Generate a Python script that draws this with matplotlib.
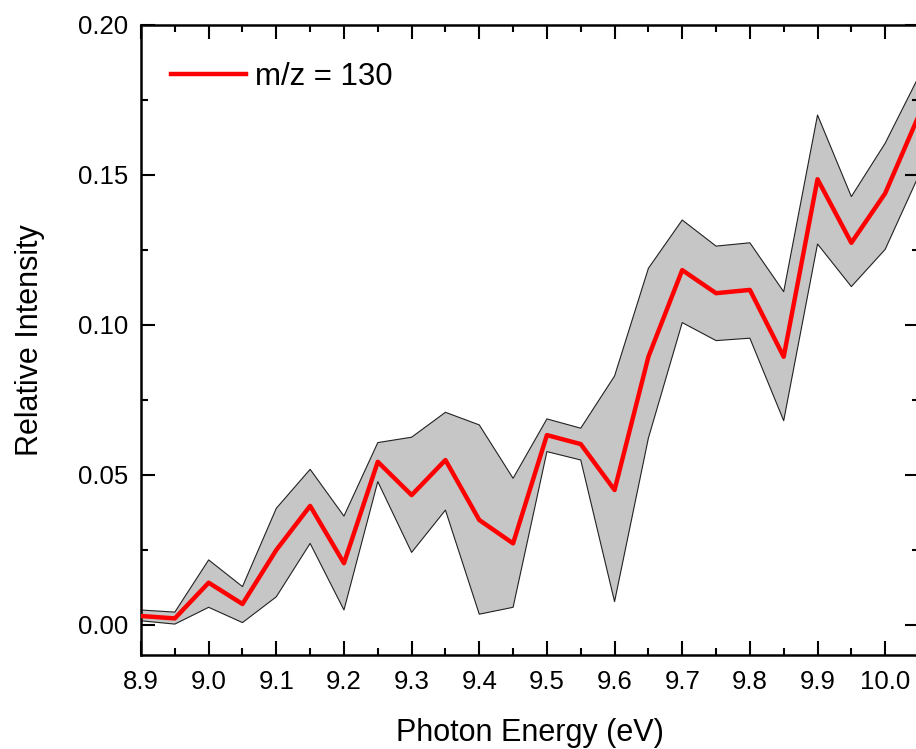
import numpy as np
import matplotlib
matplotlib.use('Agg')
import matplotlib.pyplot as plt
from matplotlib.ticker import MultipleLocator

plt.rcParams['font.family'] = ['Liberation Sans', 'DejaVu Sans']

# photon energy grid (eV)
energy = [8.90, 8.95, 9.00, 9.05, 9.10, 9.15, 9.20, 9.25, 9.30, 9.35, 9.40, 9.45,
          9.50, 9.55, 9.60, 9.65, 9.70, 9.75, 9.80, 9.85, 9.90, 9.95, 10.00, 10.05]

# mean relative intensity, m/z = 130
intensity = [0.0030, 0.0022, 0.0141, 0.0070, 0.0250, 0.0397, 0.0206, 0.0544,
             0.0433, 0.0550, 0.0350, 0.0272, 0.0633, 0.0603, 0.0450, 0.0894,
             0.1183, 0.1106, 0.1117, 0.0894, 0.1486, 0.1274, 0.1439, 0.1700]

# error band
upper = [0.0050, 0.0043, 0.0217, 0.0128, 0.0389, 0.0519, 0.0363, 0.0608,
         0.0626, 0.0709, 0.0667, 0.0489, 0.0687, 0.0656, 0.0830, 0.1189,
         0.1350, 0.1263, 0.1274, 0.1111, 0.1700, 0.1428, 0.1606, 0.1830]
lower = [0.0014, 0.0003, 0.0059, 0.0008, 0.0094, 0.0272, 0.0050, 0.0478,
         0.0242, 0.0383, 0.0036, 0.0059, 0.0578, 0.0550, 0.0078, 0.0623,
         0.1008, 0.0948, 0.0956, 0.0681, 0.1270, 0.1128, 0.1252, 0.1500]

fig = plt.figure(figsize=(9.16, 7.49), dpi=100)
ax = fig.add_axes([141/916, 94/749, 778/916, 630/749])

ax.fill_between(energy, lower, upper, facecolor='#c6c6c6', edgecolor='none', zorder=1)
ax.plot(energy, upper, color='#222222', lw=0.8, zorder=2)
ax.plot(energy, lower, color='#222222', lw=0.8, zorder=2)
ax.plot(energy, intensity, color='#ff0000', lw=3.2, label='m/z = 130', zorder=3)

ax.set_xlim(8.9, 10.05)
ax.set_ylim(-0.01, 0.20)
ax.xaxis.set_major_locator(MultipleLocator(0.1))
ax.xaxis.set_minor_locator(MultipleLocator(0.05))
ax.yaxis.set_major_locator(MultipleLocator(0.05))
ax.yaxis.set_minor_locator(MultipleLocator(0.025))
ax.xaxis.set_major_formatter(matplotlib.ticker.FormatStrFormatter('%.1f'))
ax.yaxis.set_major_formatter(matplotlib.ticker.FormatStrFormatter('%.2f'))

ax.tick_params(which='both', direction='in', top=True, right=True, width=1.5)
ax.tick_params(which='major', length=10, labelsize=18.5)
ax.tick_params(axis='x', which='major', pad=11)
ax.tick_params(axis='y', which='major', pad=9)
ax.tick_params(which='minor', length=5)
for s in ax.spines.values():
    s.set_linewidth(1.8)

ax.set_xlabel('Photon Energy (eV)', fontsize=22, labelpad=17)
ax.set_ylabel('Relative Intensity', fontsize=22, labelpad=24)

ax.legend(loc='upper left', bbox_to_anchor=(0.022, 0.961), borderaxespad=0,
          frameon=False, fontsize=22.5, handlelength=2.4, handletextpad=0.3)

fig.savefig('out.png', dpi=100)
